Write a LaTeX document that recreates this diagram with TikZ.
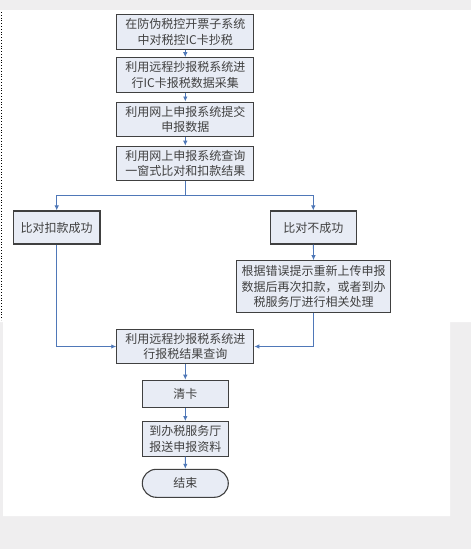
\documentclass[tikz,border=0pt]{standalone}
\usepackage{fontspec}
\usepackage{tikz}
\usetikzlibrary{calc,arrows.meta,positioning,shapes.misc}
\setmainfont{Noto Sans CJK SC}
\definecolor{flowFill}{RGB}{232,236,245}
\definecolor{flowEdge}{RGB}{64,64,64}
\definecolor{flowBlue}{RGB}{79,120,184}
\definecolor{pageGray}{RGB}{239,238,239}

\begin{document}
\begin{tikzpicture}[x=1pt,y=-1pt,
    stepbox/.style={draw=flowEdge, line width=1.1pt, fill=flowFill, align=center,
        inner sep=0pt, font=\fontsize{12}{15.5}\selectfont, text=black!75},
    endbox/.style={stepbox, rounded rectangle},
    flow/.style={flowBlue, line width=0.9pt, -{Latex[length=5pt,width=4.5pt]}},
    link/.style={flowBlue, line width=0.9pt}]

    % page background
    \fill[pageGray] (0,0) rectangle (471,549);
    \fill[white] (0,10) -- (471,10) -- (471,322) -- (450,322) -- (450,516)
        -- (3,516) -- (3,322) -- (0,322) -- cycle;
    \draw[black, line width=0.8pt, dotted] (1,12) -- (1,320);
    \useasboundingbox (0,0) rectangle (471,549);

    % main column
    \node[stepbox, minimum width=137pt, minimum height=34.5pt] (collect) at (185.3,32)
        {在防伪税控开票子系统\\中对税控IC卡抄税};
    \node[stepbox, minimum width=137pt, minimum height=34.5pt] (gather) at (185.3,75)
        {利用远程抄报税系统进\\行IC卡报税数据采集};
    \node[stepbox, minimum width=137pt, minimum height=34.5pt] (submit) at (185.3,119.3)
        {利用网上申报系统提交\\申报数据};
    \node[stepbox, minimum width=137pt, minimum height=34.5pt] (query) at (185.3,163.5)
        {利用网上申报系统查询\\一窗式比对和扣款结果};

    % two outcomes
    \node[stepbox, minimum width=86.5pt, minimum height=33pt] (success) at (56.7,227.5)
        {比对扣款成功};
    \node[stepbox, minimum width=85.5pt, minimum height=33pt] (fail) at (313.3,227.5)
        {比对不成功};
    \node[stepbox, minimum width=154pt, minimum height=51.5pt] (retry) at (313.7,286.5)
        {根据错误提示重新上传申报\\数据后再次扣款，或者到办\\税服务厅进行相关处理};

    % closing steps
    \node[stepbox, minimum width=137pt, minimum height=34.5pt] (result) at (185.3,346.5)
        {利用远程抄报税系统进\\行报税结果查询};
    \node[stepbox, minimum width=86pt, minimum height=27.5pt] (clear) at (185.3,394)
        {清卡};
    \node[stepbox, minimum width=86pt, minimum height=34.5pt] (deliver) at (185.3,438.8)
        {到办税服务厅\\报送申报资料};
    \node[endbox, minimum width=86pt, minimum height=28pt] (finish) at (185.3,483.3)
        {结束};

    % connectors
    \draw[flow] (collect) -- (gather);
    \draw[flow] (gather) -- (submit);
    \draw[flow] (submit) -- (query);
    \coordinate (split) at (185.3,195);
    \draw[link] (query) -- (split);
    \draw[flow] (split) -| (success.north);
    \draw[flow] (split) -| (fail.north);
    \draw[flow] (fail) -- (retry);
    \draw[flow] (success.south) |- (result.west);
    \draw[flow] (retry.south) |- (result.east);
    \draw[flow] (result) -- (clear);
    \draw[flow] (clear) -- (deliver);
    \draw[flow] (deliver) -- (finish);

\end{tikzpicture}
\end{document}
